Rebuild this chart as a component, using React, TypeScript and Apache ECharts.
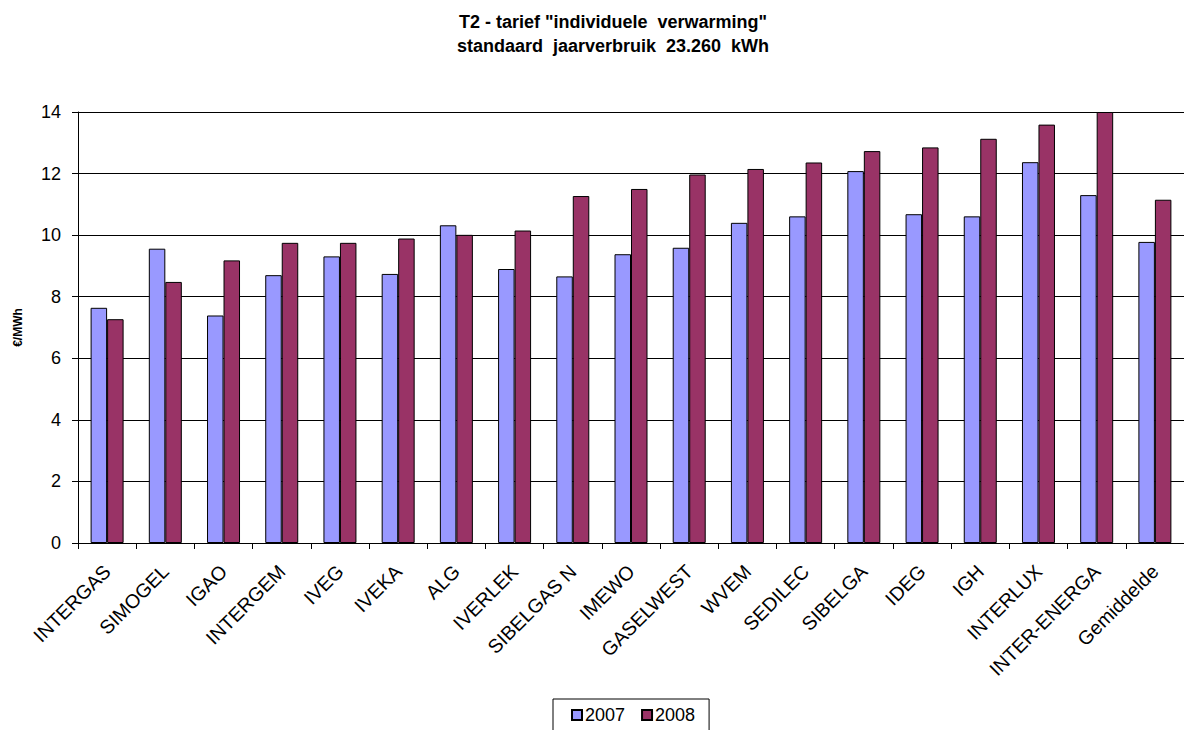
import React, { useEffect, useRef } from "react";
import * as echarts from "echarts";

const categories = [
  "INTERGAS", "SIMOGEL", "IGAO", "INTERGEM", "IVEG", "IVEKA", "ALG", "IVERLEK",
  "SIBELGAS N", "IMEWO", "GASELWEST", "WVEM", "SEDILEC", "SIBELGA", "IDEG", "IGH",
  "INTERLUX", "INTER-ENERGA", "Gemiddelde",
];
const values2007 = [7.64, 9.56, 7.39, 8.70, 9.31, 8.74, 10.32, 8.90, 8.66, 9.38, 9.59, 10.40, 10.61, 12.08, 10.68, 10.61, 12.37, 11.30, 9.78];
const values2008 = [7.27, 8.48, 9.18, 9.75, 9.75, 9.89, 10.01, 10.15, 11.27, 11.50, 11.97, 12.15, 12.36, 12.73, 12.85, 13.13, 13.59, 14.0, 11.15];
const seriesNames = ["2007", "2008"];
const titleLines = ['T2 - tarief "individuele  verwarming"', "standaard  jaarverbruik  23.260  kWh"];
const yAxisName = "€/MWh";

export default function App() {
  const ref = useRef<HTMLDivElement>(null);
  useEffect(() => {
    document.body.style.margin = "0";
    const chart = echarts.init(ref.current!, null, { renderer: "svg" });
    const font = "Arial, 'Liberation Sans', sans-serif";
    chart.setOption({
      animation: false,
      backgroundColor: "#fff",
      title: {
        text: titleLines.join("\n"),
        left: 608,
        top: 5,
        textAlign: "center",
        textStyle: { fontFamily: font, fontSize: 18, fontWeight: "bold", color: "#000", lineHeight: 24 },
      },
      legend: {
        data: seriesNames,
        bottom: -2,
        left: 553,
        width: 157,
        icon: "rect",
        itemWidth: 10,
        itemHeight: 10,
        itemGap: 16,
        borderColor: "#000",
        borderWidth: 1,
        padding: [7, 14, 8, 18],
        textStyle: { fontFamily: font, fontSize: 18, color: "#000", padding: [0, 0, 0, -2] },
      },
      grid: { left: 78, right: 0, top: 112, bottom: 187, containLabel: false },
      xAxis: {
        type: "category",
        data: categories,
        axisLine: { lineStyle: { color: "#000", width: 1 } },
        axisTick: { show: true, length: 6, alignWithLabel: false, lineStyle: { color: "#000" } },
        axisLabel: {
          rotate: 45,
          interval: 0,
          margin: 25,
          fontFamily: font,
          fontSize: 19.5,
          color: "#000",
        },
      },
      yAxis: {
        type: "value",
        min: 0,
        max: 14,
        interval: 2,
        name: yAxisName,
        nameLocation: "middle",
        nameRotate: 90,
        nameGap: 54,
        nameTextStyle: { fontFamily: font, fontSize: 12, fontWeight: "bold", color: "#000" },
        axisLine: { show: true, lineStyle: { color: "#000", width: 1 } },
        axisTick: { show: true, length: 6, lineStyle: { color: "#000" } },
        axisLabel: { fontFamily: font, fontSize: 18, color: "#000", margin: 17 },
        splitLine: { show: true, lineStyle: { color: "#000", width: 1 } },
      },
      series: [
        {
          name: seriesNames[0],
          type: "bar",
          data: values2007,
          barWidth: 16.5,
          barGap: "0%",
          itemStyle: { color: "#9999FF", borderColor: "#000", borderWidth: 1 },
        },
        {
          name: seriesNames[1],
          type: "bar",
          data: values2008,
          barWidth: 16.5,
          barGap: "0%",
          itemStyle: { color: "#993366", borderColor: "#000", borderWidth: 1 },
        },
      ],
    });
    return () => chart.dispose();
  }, []);
  return <div ref={ref} style={{ width: 1184, height: 730 }} />;
}
